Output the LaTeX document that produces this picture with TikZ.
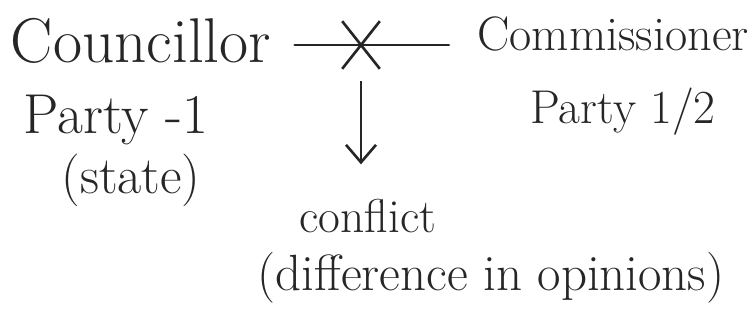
\documentclass[tikz,border=0pt]{standalone}
\usepackage{tikz}
\usetikzlibrary{arrows.meta,shapes.misc}
\definecolor{ink}{HTML}{262626}
\tikzset{
  handtext/.style={
    anchor=base, inner sep=0pt, text=ink,
    font=\fontsize{#1}{#1}\selectfont
  },
  handtext/.default=28,
  strikeline/.style={line width=1.5pt, draw=ink, line cap=round},
  flowarrow/.style={-{Straight Barb[length=3.5mm, width=6mm]}, line width=1.5pt, color=ink},
  crossmark/.style={
    cross out, draw=ink, line width=1.5pt, inner sep=0pt,
    minimum width=0.7cm, minimum height=0.9cm
  },
}

\begin{document}
\begin{tikzpicture}[x=0.02cm, y=-0.02cm]
  \useasboundingbox (0,0) rectangle (754,322);

  \node[handtext=36] (councillor) at (141,62) {Councillor};
  \node[handtext=27.5] (commissioner) at (613,50) {Commissioner};
  \node[handtext=32] (partyone) at (116,133) {Party -1};
  \node[handtext=30] (state) at (131,193) {(state)};
  \node[handtext=27] (partyhalf) at (623,123) {Party 1/2};
  \node[crossmark] (cross) at (361,45) {};

  \node[handtext=27] (conflict) at (368,232) {conflict};
  \node[handtext=29] (opinions) at (491,290) {(difference in opinions)};

  \draw[strikeline, shorten <=0.46cm, shorten >=0.56cm] (councillor.east |- cross) -- (commissioner.west |- cross);
  \draw[flowarrow, shorten <=0.25cm, shorten >=0.68cm] (cross.south) -- (cross.south |- conflict.north);
\end{tikzpicture}
\end{document}
